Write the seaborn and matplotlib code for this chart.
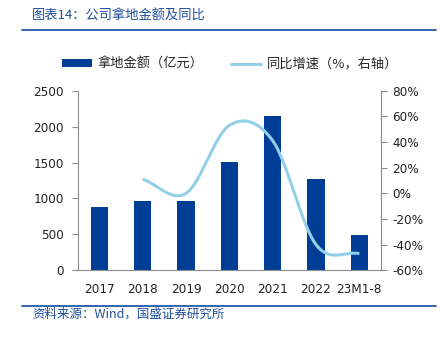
import numpy as np
import matplotlib
matplotlib.use("Agg")
import matplotlib.pyplot as plt
from matplotlib.lines import Line2D
from matplotlib.patches import Patch
import seaborn as sns
import pandas as pd

# Land acquisition amount (100 million yuan) and YoY growth (%)
categories = ["2017", "2018", "2019", "2020", "2021", "2022", "23M1-8"]
amount = [877, 969, 969, 1503, 2152, 1275, 491]
growth_years = ["2018", "2019", "2020", "2021", "2022", "23M1-8"]
growth = [11, 0, 53, 41, -40, -47]

bar_color = "#003E96"
line_color = "#92D0EA"
text_blue = "#1F4E9C"
rule_blue = "#2458A8"

sns.set_theme(style="white")
plt.rcParams["font.family"] = ["DejaVu Sans", "Noto Sans CJK SC"]
cjk = ["Noto Sans CJK SC", "DejaVu Sans"]
tick_font = {"family": "DejaVu Sans", "stretch": "condensed", "size": 9.6}

fig = plt.figure(figsize=(4.40, 3.38), dpi=100)
ax = fig.add_axes([0.1766, 0.2003, 0.866 - 0.1766, 0.7317 - 0.2003])

df = pd.DataFrame({"cat": categories, "amount": amount})
sns.barplot(data=df, x="cat", y="amount", order=categories, color=bar_color,
            saturation=1, width=0.4, ax=ax, linewidth=0)
ax.set_ylim(0, 2500)
ax.set_yticks(np.arange(0, 2501, 500))
ax.set_xlim(-0.5, len(categories) - 0.5)
ax.set_xlabel("")
ax.set_ylabel("")

# Smoothed growth curve (Bezier through the yearly points, Catmull-Rom controls)
ax2 = ax.twinx()
xs = np.array([categories.index(c) for c in growth_years], dtype=float)
ys = np.array(growth, dtype=float)
pts = np.column_stack([xs, ys])
n = len(pts)
curve = []
for i in range(n - 1):
    p0 = pts[i - 1] if i > 0 else pts[i] - (pts[i + 1] - pts[i])
    p1, p2 = pts[i], pts[i + 1]
    p3 = pts[i + 2] if i + 2 < n else pts[i + 1] + (pts[i + 1] - pts[i])
    c1 = p1 + (p2 - p0) / 6
    c2 = p2 - (p3 - p1) / 6
    t = np.linspace(0, 1, 40)[:, None]
    seg = ((1 - t) ** 3) * p1 + 3 * ((1 - t) ** 2) * t * c1 + 3 * (1 - t) * t ** 2 * c2 + t ** 3 * p2
    curve.append(seg if i == 0 else seg[1:])
curve = np.vstack(curve)
ax2.plot(curve[:, 0], curve[:, 1], color=line_color, lw=2.2, solid_capstyle="butt")
ax2.set_ylim(-60, 80)
ax2.set_yticks(np.arange(-60, 81, 20))
ax2.set_yticklabels([f"{v}%" for v in range(-60, 81, 20)], fontdict=tick_font)
ax2.set_xlim(-0.5, len(categories) - 0.5)

for a in (ax, ax2):
    for s in a.spines.values():
        s.set_color("#8C8C8C")
        s.set_linewidth(0.8)
    a.spines["top"].set_visible(False)
    a.grid(False)
ax.spines["right"].set_visible(False)
ax2.spines["left"].set_visible(False)
ax2.spines["bottom"].set_visible(False)

ax.set_xticks(np.arange(len(categories)))
ax.set_xticklabels(categories, fontdict=tick_font)
ax.set_yticklabels([str(v) for v in range(0, 2501, 500)], fontdict=tick_font)
ax.tick_params(axis="x", length=0, pad=9, colors="#222222")
ax.set_xticks(np.arange(-0.5, len(categories) - 0.4, 1), minor=True)
ax.tick_params(axis="x", which="minor", length=4, width=0.8, color="#8C8C8C", direction="out")
ax.tick_params(axis="y", length=4, width=0.8, color="#8C8C8C", direction="out",
               labelcolor="#222222", pad=6, left=True)
ax2.tick_params(axis="y", length=4, width=0.8, color="#8C8C8C", direction="out",
                labelcolor="#222222", pad=4, right=True)

# Header, rules and legend
fig.text(0.073, 0.955, "图表14：公司拿地金额及同比", color=text_blue, fontsize=9.5,
         style="italic", family=cjk, va="center", ha="left")
fig.add_artist(Line2D([0.05, 0.99], [0.911, 0.911], color=rule_blue, lw=1.3,
                      transform=fig.transFigure))
fig.add_artist(Line2D([0.05, 0.99], [0.096, 0.096], color=rule_blue, lw=1.3,
                      transform=fig.transFigure))
fig.text(0.073, 0.07, "资料来源：Wind，国盛证券研究所", color=text_blue, fontsize=9,
         style="italic", family=cjk, va="center", ha="left")

handles = [Patch(facecolor=bar_color, edgecolor="none"),
           Line2D([], [], color=line_color, lw=2.2)]
labels = ["拿地金额（亿元）", "同比增速（%，右轴）"]
fig.legend(handles, labels, loc="center left", bbox_to_anchor=(0.113, 0.81), ncol=2,
           frameon=False, prop={"family": cjk, "size": 9.5}, handlelength=2.3,
           handleheight=0.45, handletextpad=0.4, columnspacing=2.1)

fig.savefig("out.png", dpi=100)
